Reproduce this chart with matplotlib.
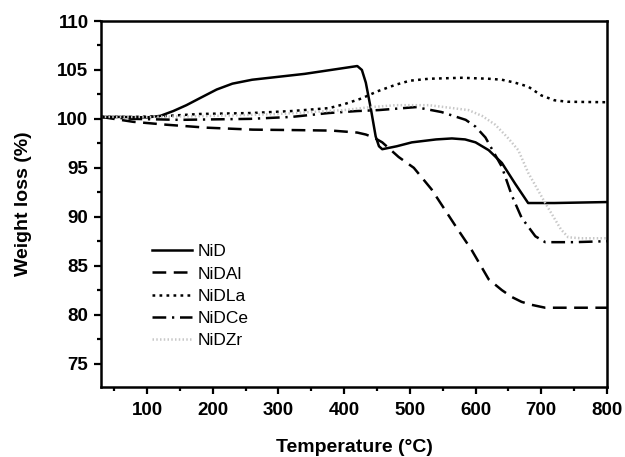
import matplotlib.pyplot as plt
from matplotlib.ticker import MultipleLocator

plt.rcParams["font.family"] = ["Liberation Sans", "DejaVu Sans"]

# TGA curves (temperature in C, weight in %)
nid_t = [30, 60, 100, 120, 140, 160, 180, 206, 230, 260, 300, 340, 380, 410,
         420, 427, 433, 441, 448, 453, 458, 480, 503, 540, 564, 584, 600, 620,
         640, 660, 680, 720, 760, 800]
nid_w = [100.2, 100.2, 100.15, 100.3, 100.8, 101.4, 102.1, 103.0, 103.6, 104.0,
         104.3, 104.6, 105.0, 105.3, 105.4, 105.0, 103.7, 100.9, 98.2, 97.2, 96.9,
         97.2, 97.6, 97.9, 98.0, 97.9, 97.6, 96.8, 95.5, 93.4, 91.4, 91.4, 91.45,
         91.5]

nidal_t = [30, 79, 130, 191, 261, 330, 382, 420, 433, 445, 458, 483, 506, 533,
           570, 594, 620, 640, 655, 670, 685, 706, 750, 800]
nidal_w = [100.2, 99.7, 99.4, 99.1, 98.9, 98.85, 98.8, 98.6, 98.4, 98.1, 97.6,
           96.1, 95.0, 92.8, 89.0, 86.6, 83.6, 82.5, 81.8, 81.3, 81.0, 80.7, 80.7,
           80.7]

nidla_t = [30, 80, 130, 180, 260, 320, 377, 400, 427, 450, 479, 500, 529, 579,
           620, 640, 660, 680, 700, 720, 740, 800]
nidla_w = [100.2, 100.2, 100.3, 100.5, 100.6, 100.8, 101.1, 101.5, 102.1, 102.8,
           103.5, 103.9, 104.1, 104.2, 104.1, 104.0, 103.7, 103.3, 102.4, 101.9,
           101.75, 101.7]

nidce_t = [30, 80, 150, 256, 320, 377, 420, 453, 509, 548, 585, 600, 615, 640,
           655, 670, 691, 706, 750, 800]
nidce_w = [100.2, 100.0, 99.9, 100.0, 100.2, 100.6, 100.8, 100.9, 101.2, 100.7,
           99.9, 99.2, 98.1, 95.1, 92.2, 89.9, 88.0, 87.4, 87.4, 87.5]

nidzr_t = [30, 100, 200, 300, 400, 440, 479, 529, 589, 610, 630, 650, 665, 680,
           706, 730, 741, 760, 800]
nidzr_w = [100.2, 100.2, 100.3, 100.5, 100.9, 101.2, 101.4, 101.4, 100.9, 100.3,
           99.4, 98.0, 96.8, 94.5, 91.4, 88.7, 87.9, 87.8, 87.8]

series = [
    ("NiD", nid_t, nid_w, "black", "-"),
    ("NiDAl", nidal_t, nidal_w, "black", (0, (5.5, 3))),
    ("NiDLa", nidla_t, nidla_w, "black", (0, (1.1, 1.7))),
    ("NiDCe", nidce_t, nidce_w, "black", (0, (5.5, 2.3, 0.9, 2.3))),
    ("NiDZr", nidzr_t, nidzr_w, "#c8c8c8", (0, (0.6, 0.9))),
]

fig = plt.figure(figsize=(6.25, 4.57), dpi=100)
ax = fig.add_axes([0.1616, 0.1532, 0.8096, 0.8008])

for label, t, w, color, ls in series:
    ax.plot(t, w, color=color, linestyle=ls, linewidth=1.8, label=label)

ax.set_xlim(30, 800)
ax.set_ylim(72.6, 110)
ax.xaxis.set_major_locator(MultipleLocator(100))
ax.xaxis.set_minor_locator(MultipleLocator(50))
ax.yaxis.set_minor_locator(MultipleLocator(2.5))
ax.set_yticks([75, 80, 85, 90, 95, 100, 105, 110])

for side in ax.spines.values():
    side.set_linewidth(1.8)
ax.tick_params(which="major", direction="out", length=5, width=1.6, labelsize=13.5, pad=4)
ax.tick_params(which="minor", direction="out", length=3, width=1.6)
ax.tick_params(axis="x", which="major", pad=6)
for lbl in ax.get_xticklabels() + ax.get_yticklabels():
    lbl.set_fontweight("bold")

ax.set_xlabel("Temperature (°C)", fontsize=14, fontweight="bold", labelpad=14)
ax.set_ylabel("Weight loss (%)", fontsize=14, fontweight="bold", labelpad=18)

ax.legend(loc="upper left", bbox_to_anchor=(0.10, 0.39), frameon=False,
          fontsize=12.5, handlelength=2.3, handletextpad=0.35, labelspacing=0.4,
          borderpad=0, borderaxespad=0)

fig.savefig("out.png", dpi=100)
